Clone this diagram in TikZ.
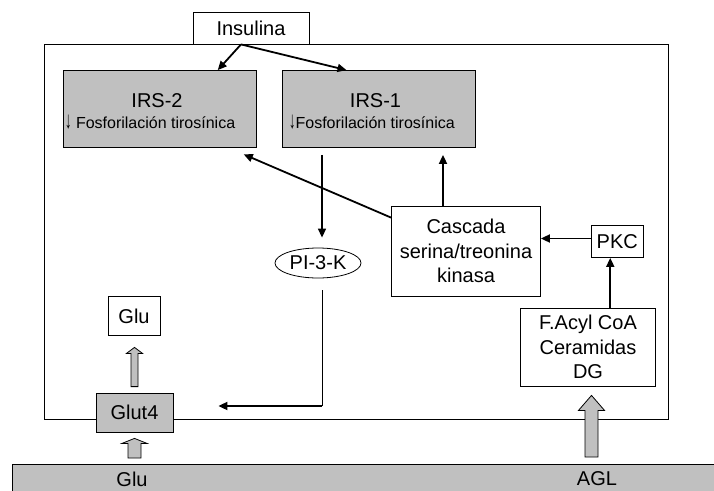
\documentclass[tikz,border=0pt]{standalone}
\usepackage{fontspec}
\setmainfont{Liberation Sans}
\usetikzlibrary{positioning,calc,arrows.meta,shapes.geometric}
\definecolor{boxgray}{RGB}{192,192,192}

% gray block arrow: base, tip, shaft half width, head half width, head length
\newcommand{\fatarrow}[5]{%
  \draw[fatarrow] ($(#1)+(-#3,0)$) -- ($(#2)+(-#3,#5)$) -- ($(#2)+(-#4,#5)$) -- (#2)
    -- ($(#2)+(#4,#5)$) -- ($(#2)+(#3,#5)$) -- ($(#1)+(#3,0)$) -- cycle;}
\newcommand{\downarr}{\scalebox{0.8}[1.5]{\bfseries ↓}}

\begin{document}
\begin{tikzpicture}[x=1pt, y=-1pt, font=\fontsize{20}{24.5}\selectfont,
    box/.style={draw, line width=0.8pt, inner sep=0pt, fill=white},
    graybox/.style={box, fill=boxgray},
    arr/.style={line width=1.8pt, -{Triangle[length=9pt,width=8pt]}},
    fatarrow/.style={draw, line width=0.8pt, fill=boxgray},
    subtext/.style={font=\fontsize{16}{19}\selectfont, inner sep=0pt}]

    \useasboundingbox (0,0) rectangle (714,490);

    % Cell
    \node[draw, line width=0.8pt, inner sep=0pt, minimum width=624pt, minimum height=375pt] (cell) at (356,231.5) {};
    \node[box, minimum width=116pt, minimum height=32pt] (ins) at (251,28) {Insulina};

    % IRS boxes
    \node[graybox, minimum width=193pt, minimum height=77pt] (irs2) at (159.75,109) {};
    \node[graybox, minimum width=193pt, minimum height=77pt] (irs1) at (378.5,109) {};
    \node[anchor=base, inner sep=0pt] (irs2t) at (157,107.7) {IRS-2};
    \node[subtext, anchor=base west] (irs2s) at (65,128.5) {\downarr{} Fosforilación tirosínica};
    \node[anchor=base, inner sep=0pt] (irs1t) at (375.5,107.7) {IRS-1};
    \node[subtext, anchor=base west] (irs1s) at (289,128.5) {\downarr{}Fosforilación tirosínica};

    % Signalling
    \node[box, minimum width=149pt, minimum height=90pt, align=center] (cas) at (466,251) {Cascada\\serina/treonina\\kinasa};
    \node[box, minimum width=51.5pt, minimum height=32pt] (pkc) at (617.25,241.5) {PKC};
    \node[box, minimum width=135pt, minimum height=78.5pt, align=center] (fac) at (588,347.25) {F.Acyl CoA\\Ceramidas\\DG};
    \node[draw, ellipse, line width=0.8pt, inner sep=0pt, minimum width=86pt, minimum height=30pt] (pik) at (318,263) {PI-3-K};

    % Glucose
    \node[box, minimum width=52pt, minimum height=39pt] (glu) at (134,316) {Glu};
    \node[graybox, minimum width=77pt, minimum height=39pt] (glut) at (134.5,412.5) {Glut4};

    % Outside
    \node[graybox, anchor=north west, minimum width=710pt, minimum height=32pt] (medio) at (12,464) {};
    \node (gluex) at (132,479) {Glu};
    \node (agl) at (597,479) {AGL};

    % Insulin arrows
    \coordinate (insout) at ([xshift=-10pt]ins.south);
    \draw[arr] (insout) -- ([xshift=58pt]irs2.north);
    \draw[arr] (insout) -- ([xshift=-32pt]irs1.north);

    % Inhibition path
    \draw[arr] ([yshift=-12pt]cas.north west) -- ([shift={(84pt,-6.5pt)}]irs2.south);
    \coordinate (c1) at ([xshift=-23pt]cas.north);
    \draw[arr] (c1) -- ($(c1 |- irs1.south)+(0,7)$);
    \coordinate (k1) at ([yshift=3pt]pkc.west);
    \draw[arr] (k1) -- (k1 -| cas.east);
    \coordinate (f1) at ([xshift=-7pt]pkc.south);
    \draw[arr] (f1 |- fac.north) -- (f1);

    % PI-3-K to Glut4
    \coordinate (p1) at ([shift={(-56.5pt,-7pt)}]irs1.south);
    \draw[arr, line width=1.5pt] (p1) -- ($(p1 |- pik.north)+(0,-10)$);
    \coordinate (p2) at ($(p1 |- pik.south)+(0,12)$);
    \coordinate (g1) at ([shift={(45pt,6.5pt)}]glut.east);
    \draw[line width=0.8pt] (p2) -- (p2 |- g1);
    \draw[arr] (p2 |- g1) -- (g1);

    % Block arrows
    \coordinate (a1) at ($(glut |- medio.north)+(0,-6)$);
    \coordinate (a1t) at ($(glut.south)+(0,6)$);
    \fatarrow{a1}{a1t}{6.5}{12.5}{5}
    \coordinate (a2) at ($(glut.north)+(0,-6)$);
    \coordinate (a2t) at ($(glut.north |- glu.south)+(0,11.5)$);
    \fatarrow{a2}{a2t}{3.5}{8}{6}
    \coordinate (a3) at ($(fac.south |- medio.north)+(3.5,-7)$);
    \coordinate (a3t) at ($(fac.south)+(3.5,8.5)$);
    \fatarrow{a3}{a3t}{6.5}{13}{15}
\end{tikzpicture}
\end{document}
